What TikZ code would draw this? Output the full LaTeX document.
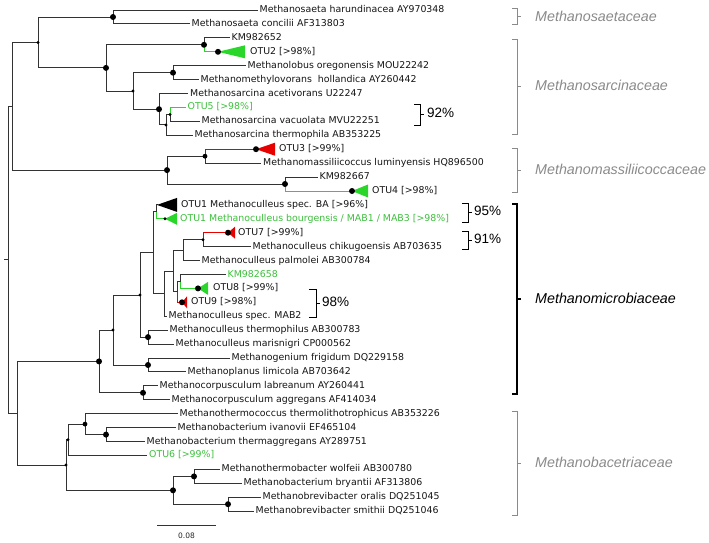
\documentclass[tikz,border=0pt]{standalone}
\usepackage{fontspec}
\setmainfont{DejaVu Sans}
\newfontfamily\famfont{Liberation Sans}
\usetikzlibrary{positioning}
\definecolor{treeLine}{HTML}{333333}
\definecolor{treeGreen}{HTML}{2BD62B}
\definecolor{textGreen}{HTML}{3CBF3C}
\definecolor{treeRed}{HTML}{E60000}
\definecolor{famGrey}{HTML}{8A8A8A}
\newcommand\leaffont{\fontsize{9.4}{11}\selectfont}

\begin{document}
\begin{tikzpicture}[x=1pt, y=-1pt,
    br/.style={draw=treeLine, line width=0.85pt},
    lf/.style={anchor=west, inner xsep=2pt, inner ysep=0pt, text height=7pt,
      text depth=2pt, font=\leaffont, text=black!92},
    glf/.style={lf, text=textGreen},
    fam/.style={draw=famGrey, line width=0.9pt},
    famlab/.style={anchor=west, inner sep=0pt, text=famGrey,
      font=\famfont\itshape\fontsize{14.3}{16}\selectfont},
    pct/.style={draw=black, line width=0.9pt},
    pctlab/.style={anchor=west, inner sep=0pt, font=\famfont\fontsize{13.5}{15}\selectfont}]
  \useasboundingbox (0,0) rectangle (709,542);

  % internal nodes
  \coordinate (rs) at (4,259.8);
  \coordinate (root) at (8,259.8);
  \coordinate (C) at (12.7,106.3);
  \coordinate (B) at (17,413.2);
  \coordinate (A) at (38,42.4);
  \coordinate (saeta) at (113,17);
  \coordinate (S) at (106,67.9);
  \coordinate (k652) at (204,44.8);
  \coordinate (t2) at (218,51.8);
  \coordinate (T) at (133,91);
  \coordinate (lobus) at (173,72.7);
  \coordinate (sarc) at (159,109.2);
  \coordinate (sth) at (166,124.9);
  \coordinate (sv) at (170,114.4);
  \coordinate (D) at (167,170.1);
  \coordinate (o3n) at (205,156.2);
  \coordinate (t3) at (256,149.2);
  \coordinate (k667) at (285,184);
  \coordinate (t4) at (352,191);
  \coordinate (M) at (99,361.4);
  \coordinate (N) at (113,330);
  \coordinate (R) at (140,295);
  \coordinate (P) at (153,252.8);
  \coordinate (o1n) at (156.5,211.9);
  \coordinate (t1a) at (157,204.9);
  \coordinate (t1b) at (165,218.8);
  \coordinate (Q) at (164,293.6);
  \coordinate (V) at (173,271);
  \coordinate (U) at (183,250.1);
  \coordinate (o7n) at (203,239.7);
  \coordinate (t7) at (228,232.7);
  \coordinate (W) at (177,291.9);
  \coordinate (X) at (180,281.5);
  \coordinate (t8) at (198,288.4);
  \coordinate (t9) at (182,302.3);
  \coordinate (th) at (148,337.1);
  \coordinate (fr) at (148,365);
  \coordinate (co) at (143,392.8);
  \coordinate (Bc) at (66,465);
  \coordinate (Y) at (68,439.8);
  \coordinate (n85) at (85,424.1);
  \coordinate (iv) at (106,434.6);
  \coordinate (Z) at (173,490.3);
  \coordinate (wo) at (194,476.4);
  \coordinate (obr) at (228,504.2);

  % leaves
  \node[lf] (mhar) at (257.5,10) {Methanosaeta harundinacea AY970348};
  \node[lf] (mcon) at (189.5,23.9) {Methanosaeta concilii AF313803};
  \node[lf] (km652) at (229.5,37.8) {KM982652};
  \node[lf] (otu2) at (248,51.8) {OTU2 [>98\%]};
  \node[lf] (molo) at (245.5,65.7) {Methanolobus oregonensis MOU22242};
  \node[lf] (mmet) at (198.5,79.6) {Methanomethylovorans\ \ hollandica AY260442};
  \node[lf] (macet) at (188,93.5) {Methanosarcina acetivorans U22247};
  \node[glf] (otu5) at (185.5,107.4) {OTU5 [>98\%]};
  \node[lf] (mvac) at (199.5,121.4) {Methanosarcina vacuolata MVU22251};
  \node[lf] (mthe) at (192.5,135.3) {Methanosarcina thermophila AB353225};
  \node[lf] (otu3) at (277,149.2) {OTU3 [>99\%]};
  \node[lf] (mlum) at (261,163.1) {Methanomassiliicoccus luminyensis HQ896500};
  \node[lf] (km667) at (317.5,177) {KM982667};
  \node[lf] (otu4) at (370,191) {OTU4 [>98\%]};
  \node[lf] (otu1a) at (179,204.9) {OTU1 Methanoculleus spec. BA [>96\%]};
  \node[glf] (otu1b) at (178,218.8) {OTU1 Methanoculleus bourgensis / MAB1 / MAB3 [>98\%]};
  \node[lf] (otu7) at (236,232.7) {OTU7 [>99\%]};
  \node[lf] (mchi) at (250.5,246.6) {Methanoculleus chikugoensis AB703635};
  \node[lf] (mpal) at (199.5,260.6) {Methanoculleus palmolei AB300784};
  \node[glf] (km658) at (225.5,274.5) {KM982658};
  \node[lf] (otu8) at (211,288.4) {OTU8 [>99\%]};
  \node[lf] (otu9) at (189,302.3) {OTU9 [>98\%]};
  \node[lf] (mab2) at (166.5,316.2) {Methanoculleus spec. MAB2};
  \node[lf] (mthp) at (167.5,330.2) {Methanoculleus thermophilus AB300783};
  \node[lf] (mmar) at (173.5,344.1) {Methanoculleus marisnigri CP000562};
  \node[lf] (mfri) at (229.5,358) {Methanogenium frigidum DQ229158};
  \node[lf] (mlim) at (185.5,371.9) {Methanoplanus limicola AB703642};
  \node[lf] (mlab) at (157.5,385.8) {Methanocorpusculum labreanum AY260441};
  \node[lf] (magg) at (169.5,399.8) {Methanocorpusculum aggregans AF414034};
  \node[lf] (mtht) at (177.5,413.7) {Methanothermococcus thermolithotrophicus AB353226};
  \node[lf] (miva) at (175.5,427.6) {Methanobacterium ivanovii EF465104};
  \node[lf] (mtha) at (144.5,441.5) {Methanobacterium thermaggregans AY289751};
  \node[glf] (otu6) at (147,455.4) {OTU6 [>99\%]};
  \node[lf] (mwol) at (219.5,469.4) {Methanothermobacter wolfeii AB300780};
  \node[lf] (mbry) at (241.5,483.3) {Methanobacterium bryantii AF313806};
  \node[lf] (mora) at (260.5,497.2) {Methanobrevibacter oralis DQ251045};
  \node[lf] (msmi) at (253.5,511.1) {Methanobrevibacter smithii DQ251046};

  % branches
  \draw[br] (rs) -- (root);
  \foreach \a/\b in {root/C, root/B, C/A, C/D, A/saeta, A/S, saeta/mhar.west,
      saeta/mcon.west, S/k652, S/T, k652/km652.west, T/lobus, T/sarc,
      lobus/molo.west, lobus/mmet.west, sarc/macet.west, sarc/sth, sth/sv,
      sth/mthe.west, sv/mvac.west, D/o3n, D/k667, o3n/mlum.west,
      k667/km667.west, B/M, B/Bc, M/N, M/co, N/R, N/fr, R/P, R/th, P/o1n, P/Q,
      o1n/t1a, Q/V, Q/mab2.west, V/U, V/W, U/o7n, U/mpal.west, o7n/mchi.west,
      W/X, X/km658.west, th/mthp.west, th/mmar.west, fr/mfri.west,
      fr/mlim.west, co/mlab.west, co/magg.west, Bc/Y, Bc/Z, Y/n85,
      Y/otu6.west, n85/mtht.west, n85/iv, iv/miva.west, iv/mtha.west, Z/wo,
      Z/obr, wo/mwol.west, wo/mbry.west, obr/mora.west, obr/msmi.west}
    \draw[br] (\a) |- (\b);
  \foreach \a/\b in {k652/t2, sv/otu5.west, k667/t4, o1n/t1b, X/t8}
    \draw[br, draw=treeGreen] (\a) |- (\b);
  \foreach \a/\b in {o3n/t3, o7n/t7, W/t9}
    \draw[br, draw=treeRed] (\a) |- (\b);

  % collapsed clades
  \fill[treeGreen] (t2) -- ++(27,-6.5) -- ++(0,13) -- cycle;
  \fill[treeRed] (t3) -- ++(19,-6.5) -- ++(0,13) -- cycle;
  \fill[treeGreen] (t4) -- ++(16,-6.5) -- ++(0,13) -- cycle;
  \fill[black] (t1a) -- ++(20,-7) -- ++(0,14) -- cycle;
  \fill[treeGreen] (t1b) -- ++(12,-6) -- ++(0,12) -- cycle;
  \fill[treeRed] (t7) -- ++(7,-6) -- ++(0,12) -- cycle;
  \fill[treeGreen] (t8) -- ++(10,-6.5) -- ++(0,13) -- cycle;
  \fill[treeRed] (t9) -- ++(5,-6) -- ++(0,12) -- cycle;

  % support dots
  \foreach \n in {saeta, k652, t2, S, lobus, sarc, D, t3, k667, t4, t7, t8, t9,
      th, fr, M, co, iv, Z, wo, obr}
    \fill (\n) circle (3pt);
  \foreach \n in {o3n, n85}
    \fill (\n) circle (2.4pt);
  \foreach \n in {A, T, sth, sv, t1b, o7n, R, N, Y, Bc}
    \fill (\n) circle (1.6pt);

  % scale bar
  \coordinate (sb1) at (157,525);
  \coordinate (sb2) at (216,525);
  \draw[br] (sb1) -- (sb2);
  \node[font=\fontsize{7.5}{9}\selectfont, text=black!85] (sbl) at (186.5,535.5) {0.08};

  % identity brackets
  \draw[pct] (414,104) -- (420,104) -- (420,125) -- (414,125) (420,114.5) -- (424,114.5);
  \node[pctlab] (p92) at (427,113) {92\%};
  \draw[pct] (462,203) -- (468,203) -- (468,222) -- (462,222) (468,212.5) -- (472,212.5);
  \node[pctlab] (p95) at (474,211) {95\%};
  \draw[pct] (462,231) -- (468,231) -- (468,249) -- (462,249) (468,240) -- (472,240);
  \node[pctlab] (p91) at (474,239) {91\%};
  \draw[pct] (309,289) -- (316,289) -- (316,317) -- (309,317) (316,303) -- (320,303);
  \node[pctlab] (p98) at (322,302) {98\%};

  % families
  \draw[fam] (512,8) -- (517,8) -- (517,24) -- (512,24) (517,16) -- (521,16);
  \node[famlab] (fsaeta) at (535,16) {Methanosaetaceae};
  \draw[fam] (512,39) -- (517,39) -- (517,134) -- (512,134) (517,86.5) -- (521,86.5);
  \node[famlab] (fsarc) at (535,85) {Methanosarcinaceae};
  \draw[fam] (512,148) -- (517,148) -- (517,192) -- (512,192) (517,170) -- (521,170);
  \node[famlab] (fmass) at (535,169) {Methanomassiliicoccaceae};
  \draw[pct, line width=1.2pt] (512,204) -- (517,204) -- (517,394) -- (512,394) (517,299) -- (521,299);
  \node[famlab, text=black] (fmicro) at (535,298) {Methanomicrobiaceae};
  \draw[fam] (512,411) -- (517,411) -- (517,515) -- (512,515) (517,463) -- (521,463);
  \node[famlab] (fbact) at (535,462) {Methanobacetriaceae};
\end{tikzpicture}
\end{document}
